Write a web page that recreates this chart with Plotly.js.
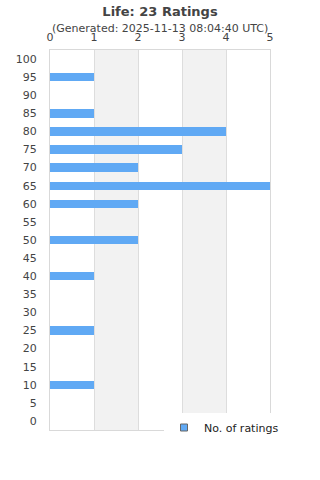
<!DOCTYPE html>
<html><head><meta charset="utf-8">
<script src="https://cdn.plot.ly/plotly-3.0.1.min.js"></script>
<style>html,body{margin:0;padding:0;background:#fff}#c{width:320px;height:480px}</style>
</head><body><div id="c"></div>
<script>
const ratings = [0,5,10,15,20,25,30,35,40,45,50,55,60,65,70,75,80,85,90,95,100];
const counts  = [0,0,1,0,0,1,0,0,1,0,2,0,2,5,2,3,4,1,0,1,0];
const xTicks = [0,1,2,3,4,5];
const titleText = 'Life: 23 Ratings';
const subtitleText = '(Generated: 2025-11-13 08:04:40 UTC)';
const seriesName = 'No. of ratings';

const font = "DejaVu Sans, Verdana, sans-serif";
const bands = [[1,2],[3,4]].map(b => ({type:'rect', xref:'x', yref:'paper', x0:b[0], x1:b[1], y0:0, y1:1, fillcolor:'#f2f2f2', line:{width:0}, layer:'below'}));

Plotly.newPlot('c', [{
  type:'bar', orientation:'h', y:ratings, x:counts, name:seriesName,
  width:2.3, marker:{color:'#60a9f4', line:{width:0}}, showlegend:false,
  hoverinfo:'x+y'
}, {
  type:'scatter', mode:'markers', x:[null], y:[null], name:seriesName,
  marker:{symbol:'square', size:7, color:'#60a9f4', line:{color:'#666', width:1}},
  showlegend:true, hoverinfo:'skip'
}], {
  width:320, height:480,
  margin:{l:50, r:50, t:50, b:50},
  paper_bgcolor:'#fff', plot_bgcolor:'rgba(0,0,0,0)',
  font:{family:font, color:'#444', size:11},
  title:{text:'<b>'+titleText+'</b>', x:0.5, xanchor:'center', y:1-11/480, yanchor:'middle', font:{family:font, size:13, color:'#444'}},
  annotations:[{text:subtitleText, xref:'paper', yref:'paper', x:0.5, y:1+21/380, xanchor:'center', yanchor:'middle', showarrow:false, font:{family:font, size:11, color:'#444'}}],
  shapes:bands,
  xaxis:{side:'top', range:[0,5], tickvals:xTicks, ticktext:xTicks.map(String), showgrid:true, gridcolor:'#dddddd', gridwidth:1, showline:true, mirror:true, linecolor:'#d9d9d9', zeroline:false, ticks:'', ticklabelstandoff:4, tickfont:{size:11, color:'#444'}, fixedrange:true},
  yaxis:{range:[-2.5,102.5], tickvals:ratings, ticktext:ratings.map(String), showgrid:false, showline:true, mirror:true, linecolor:'#d9d9d9', zeroline:false, ticks:'', ticklabelstandoff:10, tickfont:{size:11, color:'#444'}, fixedrange:true},
  legend:{x:(164-50)/220, xanchor:'left', y:17/380, yanchor:'top', bgcolor:'#fff', font:{size:11, color:'#222'}, itemwidth:30, tracegroupgap:0},
  showlegend:true, bargap:0
}, {displayModeBar:false, staticPlot:true});
</script></body></html>
